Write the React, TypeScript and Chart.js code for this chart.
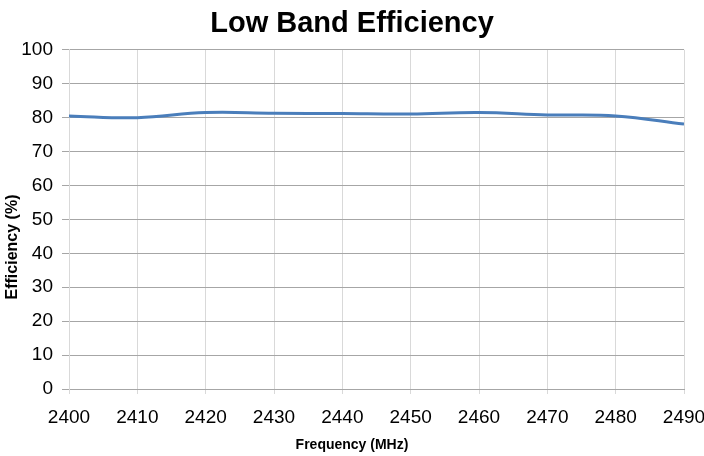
import { useEffect, useRef } from "react";
import { Chart, registerables } from "chart.js";

Chart.register(...registerables);

const chartTitle = "Low Band Efficiency";
const xAxisTitle = "Frequency (MHz)";
const yAxisTitle = "Efficiency (%)";

const frequencies = [2400, 2410, 2420, 2430, 2440, 2450, 2460, 2470, 2480, 2490];
const efficiency = [80.5, 80.0, 81.5, 81.3, 81.2, 81.1, 81.5, 80.8, 80.5, 78.1];

const xMin = 2400;
const xMax = 2490;
const xStep = 10;
const yMin = 0;
const yMax = 100;
const yStep = 10;

const FONT = '"Liberation Sans", Arial, sans-serif';

const axisTitlePlugin = {
  id: "axisTitlesCustom",
  afterDraw(chart: any) {
    const ctx = chart.ctx;
    ctx.save();
    ctx.fillStyle = "#000000";
    ctx.textAlign = "center";
    ctx.textBaseline = "middle";
    // y axis title
    ctx.save();
    ctx.translate(13, 247);
    ctx.rotate(-Math.PI / 2);
    ctx.font = `bold 16px ${FONT}`;
    ctx.fillText(yAxisTitle, 0, 0);
    ctx.restore();
    // x axis title
    ctx.font = `bold 14px ${FONT}`;
    ctx.fillText(xAxisTitle, 352, 445);
    ctx.restore();
  },
};

export default function App() {
  const canvasRef = useRef<HTMLCanvasElement | null>(null);

  useEffect(() => {
    const canvas = canvasRef.current;
    if (!canvas) return;
    const chart = new Chart(canvas, {
      type: "line",
      data: {
        datasets: [
          {
            label: "Efficiency",
            data: frequencies.map((f, i) => ({ x: f, y: efficiency[i] })),
            borderColor: "#4a7ebb",
            backgroundColor: "#4a7ebb",
            borderWidth: 3,
            pointRadius: 0,
            tension: 0.4,
            fill: false,
          },
        ],
      },
      plugins: [axisTitlePlugin],
      options: {
        responsive: false,
        animation: false,
        layout: { padding: { left: 0, right: 0, top: 0, bottom: 0 } },
        plugins: {
          legend: { display: false },
          tooltip: { enabled: false },
          title: {
            display: true,
            text: chartTitle,
            color: "#000000",
            font: { family: FONT, size: 29, weight: "bold" },
            padding: { top: 7, bottom: 8 },
          },
        },
        scales: {
          x: {
            type: "linear",
            min: xMin,
            max: xMax,
            afterFit: (s: any) => {
              s.height = 67;
              s.paddingRight = 20;
              s.paddingLeft = 0;
            },
            ticks: {
              stepSize: xStep,
              color: "#000000",
              font: { family: FONT, size: 19 },
              padding: 12,
              maxRotation: 0,
              callback: (v: any) => String(v),
            },
            grid: {
              color: "#d9d9d9",
              lineWidth: 1,
              tickLength: 5,
              tickColor: "#d9d9d9",
            },
            border: { color: "#a6a6a6", width: 1 },
          },
          y: {
            type: "linear",
            min: yMin,
            max: yMax,
            afterFit: (s: any) => {
              s.width = 69;
            },
            ticks: {
              stepSize: yStep,
              color: "#000000",
              font: { family: FONT, size: 19 },
              padding: 9,
            },
            grid: {
              color: "#a6a6a6",
              lineWidth: 1,
              tickLength: 7,
              tickColor: "#a6a6a6",
            },
            border: { color: "#d9d9d9", width: 1 },
          },
        },
      },
    });
    return () => chart.destroy();
  }, []);

  return (
    <div style={{ position: "fixed", left: 0, top: 0, width: 704, height: 456, background: "#ffffff" }}>
      <canvas ref={canvasRef} width={704} height={456} style={{ width: 704, height: 456, display: "block" }} />
    </div>
  );
}
